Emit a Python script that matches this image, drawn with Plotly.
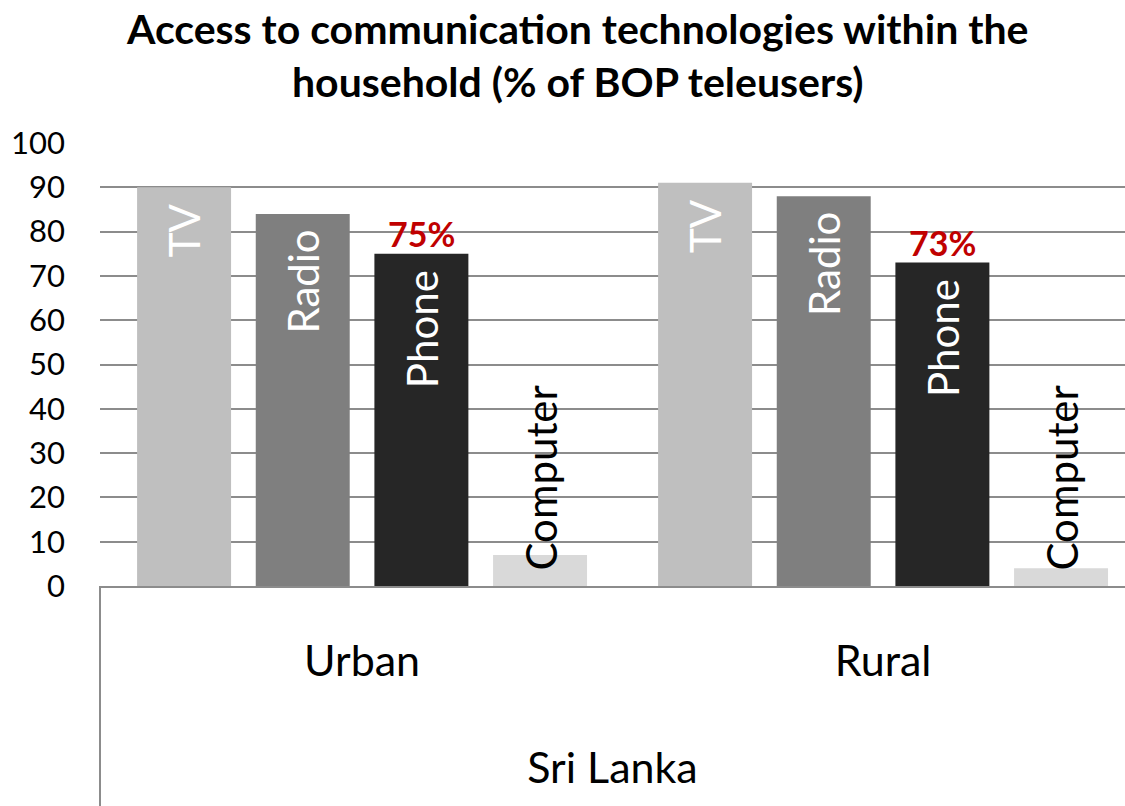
import plotly.graph_objects as go

categories = ["Urban", "Rural"]
group_label = "Sri Lanka"
series_names = ["TV", "Radio", "Phone", "Computer"]
tv = [90, 91]
radio = [84, 88]
phone = [75, 73]
computer = [7, 4]
series_values = [tv, radio, phone, computer]
colors = ["#BFBFBF", "#7F7F7F", "#262626", "#D9D9D9"]
y_ticks = list(range(0, 101, 10))
title_text = "<b>Access to communication technologies within the<br>household (% of BOP teleusers)</b>"

FONT = "Lato"
W, H = 1125, 806
plot_w, plot_h = 1025, 443
ML, MT = 100, 143
MR = W - ML - plot_w
MB = H - MT - plot_h
cat_px = 521.0
x0 = -0.503
x1 = x0 + plot_w / cat_px
bargap = 0.089
bargroupgap = 0.208
slot_px = cat_px * (1 - bargap) / len(series_names)

fig = go.Figure()
for name, vals, col in zip(series_names, series_values, colors):
    fig.add_trace(go.Bar(
        x=categories, y=vals, name=name,
        marker=dict(color=col, line=dict(width=0)),
        hoverinfo="skip",
    ))

annotations = []
for i, (name, vals) in enumerate(zip(series_names, series_values)):
    for c, v in zip(categories, vals):
        if name == "Computer":
            annotations.append(dict(
                x=c, y=0, xref="x", yref="y", text=name, showarrow=False,
                textangle=-90, xanchor="center", yanchor="bottom",
                xshift=slot_px * (i - 1.5), yshift=13,
                font=dict(family=FONT, size=42, color="black"),
            ))
        else:
            annotations.append(dict(
                x=c, y=v, xref="x", yref="y", text=name, showarrow=False,
                textangle=-90, xanchor="center", yanchor="top",
                xshift=slot_px * (i - 1.5), yshift=-14,
                font=dict(family=FONT, size=42, color="white"),
            ))
# Phone value labels
pi = series_names.index("Phone")
for c, v in zip(categories, phone):
    annotations.append(dict(
        x=c, y=v, xref="x", yref="y", text=f"<b>{v}%</b>", showarrow=False,
        xanchor="center", yanchor="bottom",
        xshift=slot_px * (pi - 1.5), yshift=-2,
        font=dict(family=FONT, size=34, color="#C00000"),
    ))
# Title
annotations.append(dict(
    x=(577 - ML) / plot_w, y=(MT + plot_h - 55) / plot_h, xref="paper", yref="paper",
    text=title_text, showarrow=False, xanchor="center", yanchor="middle",
    font=dict(family=FONT, size=41, color="black"),
))

fig.update_layout(
    width=W, height=H,
    margin=dict(l=ML, r=MR, t=MT, b=MB, pad=0),
    paper_bgcolor="white", plot_bgcolor="white",
    barmode="group", bargap=bargap, bargroupgap=bargroupgap,
    showlegend=False,
    xaxis=dict(
        range=[x0, x1], showgrid=False, showline=True, linecolor="#8C8C8C", linewidth=2,
        ticks="", tickfont=dict(family=FONT, size=43, color="black"),
        ticklabelstandoff=36, automargin=False,
        title=dict(text=group_label, font=dict(family=FONT, size=43, color="black"), standoff=69),
        fixedrange=True,
    ),
    yaxis=dict(
        range=[0, 100], tickvals=y_ticks, showgrid=True, gridcolor="#8C8C8C", gridwidth=2,
        zeroline=False, showline=False, ticks="", automargin=False, fixedrange=True,
        tickfont=dict(family=FONT, size=31, color="black"), ticklabelstandoff=34,
    ),
    annotations=annotations,
    shapes=[dict(type="line", xref="paper", yref="paper", x0=0, x1=0, y0=0, y1=-MB / plot_h,
                 line=dict(color="#8C8C8C", width=2))],
)

fig.write_html("out.html", config={"displayModeBar": False},
               post_script="document.body.style.margin='0';document.body.style.overflow='hidden';")
